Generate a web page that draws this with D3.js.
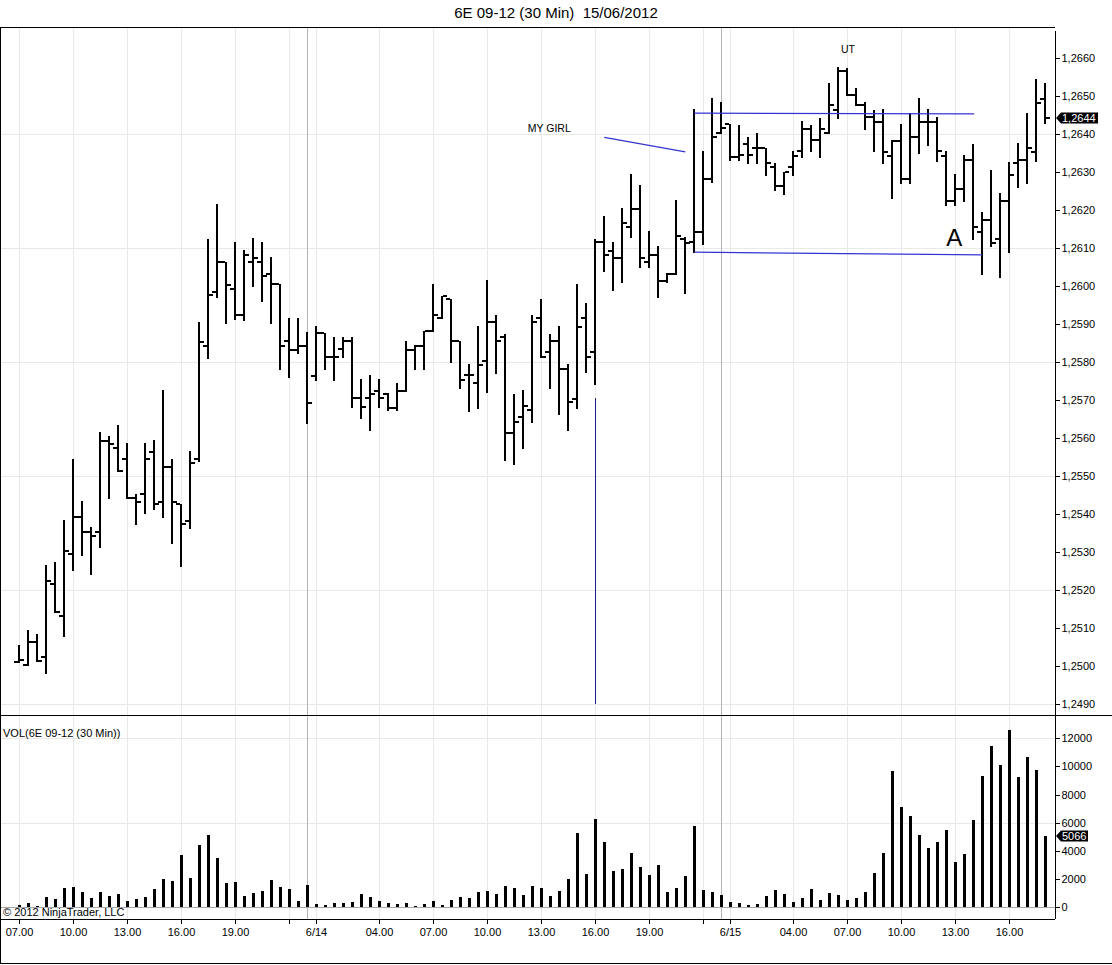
<html>

<head>
    <meta charset="utf-8">
    <script src="https://d3js.org/d3.v7.min.js"></script>
    <style>
        body { margin: 0; background: #fff; }
        text { font-family: "Liberation Sans", Arial, sans-serif; }
    </style>
</head>

<body>
    <script>

        // 30 min bars, 6E 09-12 (index 0 = 07.00 on 6/13)
        var opens = [
            1.25010, 1.25003, 1.25064, 1.25025, 1.25216, 1.25132, 1.25294, 1.25393, 1.25353, 1.25352,
            1.25593, 1.25575, 1.25544, 1.25443, 1.25453, 1.25564, 1.25432, 1.25525, 1.25425, 1.25382,
            1.25544, 1.25843, 1.25983, 1.26064, 1.25992, 1.25925, 1.26064, 1.26064, 1.26032, 1.26004,
            1.25854, 1.25832, 1.25843, 1.25763, 1.25877, 1.25812, 1.25833, 1.25854, 1.25704, 1.25704,
            1.25724, 1.25715, 1.25680, 1.25725, 1.25832, 1.25843, 1.25882, 1.25915, 1.25966, 1.25854,
            1.25766, 1.25744, 1.25803, 1.25904, 1.25865, 1.25614, 1.25654, 1.25674, 1.25915, 1.25825,
            1.25854, 1.25782, 1.25703, 1.25915, 1.25825, 1.26117, 1.26093, 1.26073, 1.26154, 1.26202,
            1.26064, 1.26082, 1.26013, 1.26031, 1.26125, 1.26115, 1.26143, 1.26282, 1.26402, 1.26425,
            1.26340, 1.26375, 1.26364, 1.26364, 1.26314, 1.26264, 1.26314, 1.26354, 1.26412, 1.26384,
            1.26402, 1.26463, 1.26566, 1.26503, 1.26476, 1.26446, 1.26432, 1.26342, 1.26382, 1.26282,
            1.26393, 1.26432, 1.26432, 1.26342, 1.26224, 1.26254, 1.26332, 1.26143, 1.26174, 1.26124,
            1.26224, 1.26325, 1.26332, 1.26353, 1.26491
        ];
        var highs = [
            1.25055, 1.25095, 1.25083, 1.25266, 1.25275, 1.25384, 1.25544, 1.25434, 1.25365, 1.25617,
            1.25606, 1.25635, 1.25586, 1.25453, 1.25586, 1.25595, 1.25726, 1.25545, 1.25425, 1.25566,
            1.25906, 1.26125, 1.26215, 1.26064, 1.26115, 1.26095, 1.26127, 1.26117, 1.26077, 1.26004,
            1.25915, 1.25915, 1.25878, 1.25895, 1.25877, 1.25865, 1.25865, 1.25865, 1.25755, 1.25766,
            1.25755, 1.25718, 1.25744, 1.25855, 1.25845, 1.25882, 1.26004, 1.25974, 1.25966, 1.25854,
            1.25794, 1.25895, 1.26016, 1.25925, 1.25874, 1.25715, 1.25726, 1.25925, 1.25966, 1.25875,
            1.25895, 1.25796, 1.26004, 1.25954, 1.26124, 1.26184, 1.26117, 1.26204, 1.26295, 1.26266,
            1.26145, 1.26106, 1.26033, 1.26226, 1.26128, 1.26466, 1.26355, 1.26496, 1.26485, 1.26425,
            1.26424, 1.26393, 1.26403, 1.26364, 1.26325, 1.26301, 1.26354, 1.26434, 1.26424, 1.26443,
            1.26533, 1.26577, 1.26573, 1.26522, 1.26485, 1.26463, 1.26465, 1.26384, 1.26426, 1.26454,
            1.26494, 1.26465, 1.26444, 1.26355, 1.26295, 1.26345, 1.26375, 1.26196, 1.26305, 1.26244,
            1.26327, 1.26377, 1.26456, 1.26544, 1.26533
        ];
        var lows = [
            1.25010, 1.25002, 1.25012, 1.24981, 1.25143, 1.25080, 1.25253, 1.25292, 1.25241, 1.25312,
            1.25441, 1.25513, 1.25441, 1.25373, 1.25402, 1.25413, 1.25391, 1.25323, 1.25263, 1.25362,
            1.25540, 1.25811, 1.25972, 1.25902, 1.25913, 1.25911, 1.26001, 1.25961, 1.25902, 1.25781,
            1.25761, 1.25823, 1.25640, 1.25753, 1.25781, 1.25753, 1.25812, 1.25681, 1.25652, 1.25621,
            1.25681, 1.25674, 1.25674, 1.25725, 1.25781, 1.25781, 1.25882, 1.25915, 1.25801, 1.25731,
            1.25671, 1.25680, 1.25722, 1.25772, 1.25542, 1.25531, 1.25573, 1.25641, 1.25814, 1.25731,
            1.25662, 1.25621, 1.25680, 1.25773, 1.25741, 1.26040, 1.25989, 1.26011, 1.26130, 1.26051,
            1.26051, 1.25972, 1.26011, 1.26031, 1.25981, 1.26090, 1.26111, 1.26273, 1.26402, 1.26332,
            1.26332, 1.26323, 1.26323, 1.26292, 1.26253, 1.26242, 1.26292, 1.26340, 1.26354, 1.26340,
            1.26402, 1.26441, 1.26503, 1.26476, 1.26412, 1.26354, 1.26323, 1.26231, 1.26272, 1.26272,
            1.26351, 1.26371, 1.26330, 1.26212, 1.26212, 1.26224, 1.26123, 1.26032, 1.26104, 1.26023,
            1.26090, 1.26261, 1.26270, 1.26330, 1.26430
        ];
        var closes = [
            1.25015, 1.25064, 1.25012, 1.25225, 1.25143, 1.25303, 1.25393, 1.25353, 1.25343, 1.25593,
            1.25584, 1.25513, 1.25443, 1.25432, 1.25544, 1.25425, 1.25525, 1.25432, 1.25375, 1.25535,
            1.25853, 1.25976, 1.26064, 1.26003, 1.25925, 1.26082, 1.26075, 1.26025, 1.26004, 1.25843,
            1.25832, 1.25843, 1.25693, 1.25877, 1.25812, 1.25812, 1.25854, 1.25704, 1.25682, 1.25715,
            1.25704, 1.25680, 1.25725, 1.25832, 1.25843, 1.25882, 1.25924, 1.25974, 1.25854, 1.25753,
            1.25766, 1.25792, 1.25904, 1.25854, 1.25614, 1.25643, 1.25683, 1.25904, 1.25814, 1.25854,
            1.25782, 1.25694, 1.25893, 1.25814, 1.26117, 1.26082, 1.26073, 1.26165, 1.26202, 1.26073,
            1.26082, 1.26013, 1.26031, 1.26132, 1.26114, 1.26143, 1.26282, 1.26391, 1.26415, 1.26340,
            1.26345, 1.26345, 1.26364, 1.26325, 1.26264, 1.26301, 1.26342, 1.26412, 1.26384, 1.26412,
            1.26476, 1.26566, 1.26503, 1.26476, 1.26446, 1.26432, 1.26352, 1.26382, 1.26282, 1.26393,
            1.26432, 1.26432, 1.26355, 1.26224, 1.26254, 1.26332, 1.26154, 1.26174, 1.26114, 1.26224,
            1.26292, 1.26332, 1.26362, 1.26482, 1.26441
        ];
        var volumes = [
            170, 300, 100, 730, 590, 1370, 1470, 1090, 660, 1090,
            800, 950, 450, 590, 730, 1300, 2010, 1870, 3720, 2080,
            4430, 5140, 3500, 1730, 1800, 800, 1020, 1160, 1940, 1440,
            1300, 450, 1590, 240, 170, 300, 300, 380, 950, 730,
            450, 310, 240, 310, 95, 240, 450, 165, 520, 730,
            660, 1090, 1180, 950, 1510, 1370, 875, 1510, 1370, 800,
            1185, 2030, 5300, 2380, 6280, 4670, 2610, 2750, 3890, 2890,
            2320, 3030, 1110, 1400, 2250, 5740, 1260, 1110, 900, 400,
            330, 190, 260, 830, 1260, 970, 400, 690, 1330, 545,
            1040, 900, 545, 690, 1110, 2460, 3890, 9650, 7090, 6450,
            5100, 4240, 4670, 5520, 3250, 3820, 6230, 9290, 11420, 10070,
            12560, 9220, 10640, 9720, 5066
        ];

        // time axis (bar index of each tick and its label)
        var tickIdx = [0, 6, 12, 18, 24, 30, 33, 40, 46, 52, 58, 64, 70, 76, 79, 86, 92, 98, 104, 110];
        var tickLabels = ["07.00", "10.00", "13.00", "16.00", "19.00", "", "6/14", "04.00", "07.00", "10.00",
            "13.00", "16.00", "19.00", "", "6/15", "04.00", "07.00", "10.00", "13.00", "16.00"];
        var sessionIdx = [32, 78];

        // price / volume axis ticks
        var priceTicks = [1.2490, 1.2500, 1.2510, 1.2520, 1.2530, 1.2540, 1.2550, 1.2560, 1.2570,
            1.2580, 1.2590, 1.2600, 1.2610, 1.2620, 1.2630, 1.2640, 1.2650, 1.2660];
        var priceGrid = [1.2490, 1.2520, 1.2550, 1.2580, 1.2610, 1.2640];
        var volTicks = [0, 2000, 4000, 6000, 8000, 10000, 12000];
        var volGrid = [6000, 12000];

        // hand drawn lines on the chart: [bar1, price1, bar2, price2]
        var drawLines = [
            [75, 1.26455, 106.1, 1.26453],
            [75, 1.26089, 107, 1.26082],
            [65, 1.26391, 74, 1.26353]
        ];
        var markLine = [64, 1.25705, 64, 1.2490];
        var notes = [
            { text: "MY GIRL", i: 56.5, p: 1.26405, size: 10.5 },
            { text: "UT", i: 91.3, p: 1.26612, size: 10.5 },
            { text: "A", i: 103.0, p: 1.26106, size: 24 }
        ];

        var width = 1112;
        var height = 965;
        var axisX = 1055;
        var priceTop = 27, priceBottom = 715, volBottom = 919;

        var svg = d3.select("body").append("svg").attr("width", width).attr("height", height);

        // scales
        var xScale = d3.scaleLinear().domain([0, 114]).range([19.3, 1045.3]);
        var yPrice = d3.scaleLinear().domain([1.2490, 1.2660]).range([704, 58]);
        var yVol = d3.scaleLinear().domain([0, 12000]).range([907.3, 738.3]);
        var bx = function(i) { return Math.round(xScale(i)); };

        // grid
        var grid = svg.append("g").attr("shape-rendering", "crispEdges");
        grid.selectAll(".vg").data(tickIdx).enter().append("line")
            .attr("x1", function(d) { return bx(d) + 0.5; })
            .attr("x2", function(d) { return bx(d) + 0.5; })
            .attr("y1", priceTop).attr("y2", volBottom)
            .attr("stroke", "#e9e9e6");
        grid.selectAll(".pg").data(priceGrid).enter().append("line")
            .attr("x1", 1).attr("x2", axisX)
            .attr("y1", function(d) { return Math.round(yPrice(d)) + 0.5; })
            .attr("y2", function(d) { return Math.round(yPrice(d)) + 0.5; })
            .attr("stroke", "#e9e9e6");
        grid.selectAll(".volg").data(volGrid).enter().append("line")
            .attr("x1", 1).attr("x2", axisX)
            .attr("y1", function(d) { return Math.round(yVol(d)) + 0.5; })
            .attr("y2", function(d) { return Math.round(yVol(d)) + 0.5; })
            .attr("stroke", "#e9e9e6");
        grid.append("line")
            .attr("x1", 1).attr("x2", axisX)
            .attr("y1", Math.round(yVol(0)) + 0.5).attr("y2", Math.round(yVol(0)) + 0.5)
            .attr("stroke", "#a8a8a8");
        grid.selectAll(".sess").data(sessionIdx).enter().append("line")
            .attr("x1", function(d) { return bx(d) + 0.5; })
            .attr("x2", function(d) { return bx(d) + 0.5; })
            .attr("y1", priceTop).attr("y2", volBottom)
            .attr("stroke", "#b4b4b4");

        // frame
        var frame = svg.append("g").attr("stroke", "#000").attr("shape-rendering", "crispEdges");
        frame.append("line").attr("x1", 0.5).attr("x2", 0.5).attr("y1", priceTop).attr("y2", 964);
        frame.append("line").attr("x1", 0).attr("x2", axisX).attr("y1", priceTop + 0.5).attr("y2", priceTop + 0.5);
        frame.append("line").attr("x1", 0).attr("x2", width).attr("y1", priceBottom + 0.5).attr("y2", priceBottom + 0.5);
        frame.append("line").attr("x1", 0).attr("x2", axisX).attr("y1", volBottom + 0.5).attr("y2", volBottom + 0.5);
        frame.append("line").attr("x1", 0).attr("x2", width).attr("y1", 963.5).attr("y2", 963.5);
        frame.append("line").attr("x1", axisX + 0.5).attr("x2", axisX + 0.5).attr("y1", 31).attr("y2", volBottom);

        // axes
        var fmtPrice = function(d) { return d3.format(".4f")(d).replace(".", ","); };
        var priceAxis = svg.append("g")
            .attr("transform", "translate(" + (axisX + 0.5) + ",0)")
            .call(d3.axisRight(yPrice).tickValues(priceTicks).tickFormat(fmtPrice).tickSize(4).tickSizeOuter(0).tickPadding(2));
        var volAxis = svg.append("g")
            .attr("transform", "translate(" + (axisX + 0.5) + ",0)")
            .call(d3.axisRight(yVol).tickValues(volTicks).tickFormat(d3.format("d")).tickSize(4).tickSizeOuter(0).tickPadding(2));
        var timeAxis = svg.append("g")
            .attr("transform", "translate(0.5," + (volBottom + 0.5) + ")")
            .call(d3.axisBottom(xScale).tickValues(tickIdx)
                .tickFormat(function(d, k) { return tickLabels[k]; })
                .tickSize(4).tickSizeOuter(0).tickPadding(5));
        timeAxis.selectAll(".tick").attr("transform", function(d) { return "translate(" + bx(d) + ",0)"; });
        [priceAxis, volAxis, timeAxis].forEach(function(a) {
            a.select(".domain").remove();
            a.selectAll("text").attr("font-size", 11).attr("fill", "#000")
                .attr("font-family", "'Liberation Sans', Arial, sans-serif");
            a.selectAll("line").attr("stroke", "#000").attr("shape-rendering", "crispEdges");
        });

        // price bars (OHLC)
        var bars = d3.range(closes.length).map(function(i) {
            return { i: i, o: opens[i], h: highs[i], l: lows[i], c: closes[i], v: volumes[i] };
        });
        var pb = svg.append("g").attr("fill", "#000").attr("shape-rendering", "crispEdges");
        pb.selectAll(".hl").data(bars).enter().append("rect")
            .attr("x", function(d) { return bx(d.i) - 1; })
            .attr("width", 2)
            .attr("y", function(d) { return Math.round(yPrice(d.h)); })
            .attr("height", function(d) { return Math.max(2, Math.round(yPrice(d.l)) - Math.round(yPrice(d.h)) + 1); });
        pb.selectAll(".op").data(bars).enter().append("rect")
            .attr("x", function(d) { return bx(d.i) - 5; })
            .attr("width", 4)
            .attr("y", function(d) { return Math.round(yPrice(d.o)) - 1; })
            .attr("height", 2);
        pb.selectAll(".cl").data(bars).enter().append("rect")
            .attr("x", function(d) { return bx(d.i) + 1; })
            .attr("width", 4)
            .attr("y", function(d) { return Math.round(yPrice(d.c)) - 1; })
            .attr("height", 2);

        // volume bars
        svg.append("g").attr("fill", "#000").attr("shape-rendering", "crispEdges")
            .selectAll("rect").data(bars).enter().append("rect")
            .attr("x", function(d) { return bx(d.i) - 1; })
            .attr("width", 3)
            .attr("y", function(d) { return Math.round(yVol(d.v)); })
            .attr("height", function(d) { return Math.round(yVol(0)) - Math.round(yVol(d.v)); });

        // drawn objects
        var ann = svg.append("g");
        ann.selectAll("line.dl").data(drawLines).enter().append("line")
            .attr("x1", function(d) { return xScale(d[0]); })
            .attr("y1", function(d) { return yPrice(d[1]); })
            .attr("x2", function(d) { return xScale(d[2]); })
            .attr("y2", function(d) { return yPrice(d[3]); })
            .attr("stroke", "#3434d2").attr("stroke-width", 1.2);
        ann.append("line")
            .attr("x1", bx(markLine[0]) + 0.5).attr("y1", yPrice(markLine[1]))
            .attr("x2", bx(markLine[2]) + 0.5).attr("y2", yPrice(markLine[3]))
            .attr("stroke", "#1c1c8c").attr("stroke-width", 1);
        ann.selectAll("text").data(notes).enter().append("text")
            .attr("x", function(d) { return xScale(d.i); })
            .attr("y", function(d) { return yPrice(d.p); })
            .attr("font-size", function(d) { return d.size; })
            .attr("fill", "#000")
            .text(function(d) { return d.text; });

        // last value markers
        function marker(y, label, w) {
            var m = svg.append("g").attr("transform", "translate(" + (axisX + 1) + "," + Math.round(y) + ")");
            m.append("path")
                .attr("d", "M0,0 L5,-5.5 L" + w + ",-5.5 L" + w + ",5.5 L5,5.5 Z")
                .attr("fill", "#000");
            m.append("text").attr("x", 6).attr("y", 4).attr("font-size", 11).attr("fill", "#fff").text(label);
        }
        marker(yPrice(closes[closes.length - 1]), fmtPrice(closes[closes.length - 1]), 42);
        marker(yVol(volumes[volumes.length - 1]), String(volumes[volumes.length - 1]), 32);

        // texts
        svg.append("text").attr("x", 556).attr("y", 18).attr("text-anchor", "middle")
            .attr("font-size", 15).style("white-space", "pre")
            .text("6E 09-12 (30 Min)  15/06/2012");
        svg.append("text").attr("x", 3).attr("y", 737).attr("font-size", 11).text("VOL(6E 09-12 (30 Min))");
        svg.append("text").attr("x", 3).attr("y", 916).attr("font-size", 11).text("\u00a9 2012 NinjaTrader, LLC");
    </script>
</body>

</html>
